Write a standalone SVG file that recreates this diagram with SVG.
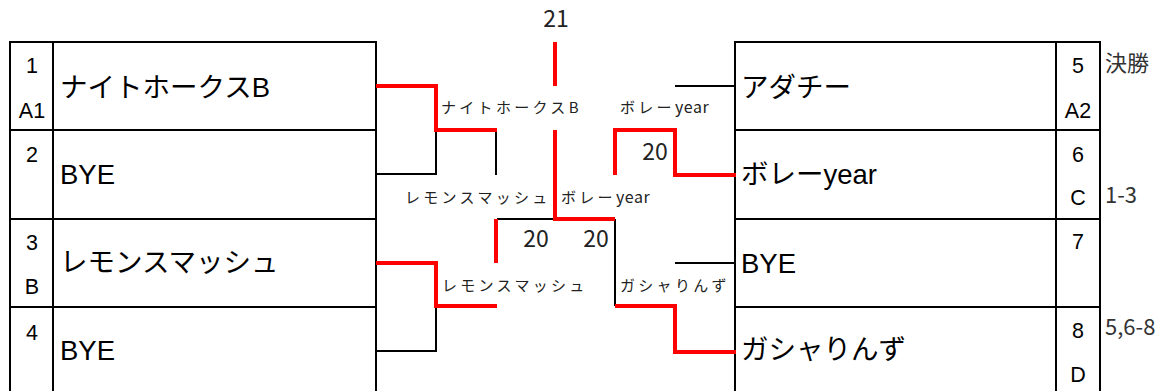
<svg xmlns="http://www.w3.org/2000/svg" width="1166" height="391" viewBox="0 0 1166 391">
<style>
.tb{fill:none;stroke:#000;stroke-width:2}
.bk{fill:none;stroke:#000;stroke-width:2}
.rd{fill:none;stroke:#ff0000;stroke-width:4}
.nm{font-family:"Liberation Sans","Noto Sans CJK JP",sans-serif;font-size:27.5px;fill:#000}
.no{font-family:"Liberation Sans","Noto Sans CJK JP",sans-serif;font-size:21.5px;fill:#000;text-anchor:middle}
.lb{font-family:"Noto Sans CJK JP",sans-serif;font-size:15px;fill:#222;letter-spacing:3.3px}
.lt{letter-spacing:0.6px;font-size:16px}
.sc{font-family:"Noto Sans CJK JP",sans-serif;font-size:23px;fill:#222;text-anchor:middle}
.sd{font-family:"Noto Sans CJK JP",sans-serif;font-size:22px;fill:#333}
</style>
<rect width="1166" height="391" fill="#fff"/>
<g id="left-table">
<path class="tb" d="M10,391V42H376V391M53,42V391M10,130H376M10,219H376M10,307H376"/>
</g>
<g id="right-table">
<path class="tb" d="M735,391V42H1100V391M1056,42V391M735,130H1100M735,219H1100M735,307H1100"/>
</g>
<g id="team1"><text class="no" x="32" y="73">1</text><text class="no" x="32" y="118">A1</text><text class="nm" x="60" y="97">ナイトホークスB</text></g>
<g id="team2"><text class="no" x="32" y="162">2</text><text class="nm" x="60" y="184">BYE</text></g>
<g id="team3"><text class="no" x="32" y="250">3</text><text class="no" x="32" y="294">B</text><text class="nm" x="60" y="272">レモンスマッシュ</text></g>
<g id="team4"><text class="no" x="32" y="340">4</text><text class="nm" x="60" y="360">BYE</text></g>
<g id="team5"><text class="no" x="1078" y="73">5</text><text class="no" x="1078" y="118">A2</text><text class="nm" x="741" y="97">アダチー</text></g>
<g id="team6"><text class="no" x="1078" y="162">6</text><text class="no" x="1078" y="205">C</text><text class="nm" x="741" y="184">ボレーyear</text></g>
<g id="team7"><text class="no" x="1078" y="249">7</text><text class="nm" x="741" y="273">BYE</text></g>
<g id="team8"><text class="no" x="1078" y="338">8</text><text class="no" x="1078" y="382">D</text><text class="nm" x="741" y="359">ガシャりんず</text></g>
<g id="side-notes">
<text class="sd" x="1105" y="71">決勝</text>
<text class="sd" x="1105" y="203">1-3</text>
<text class="sd" x="1105" y="335">5,6-8</text>
</g>
<g id="connectors">
<path class="bk" d="M376,174H436V130"/>
<path class="bk" d="M496,130V175"/>
<path class="bk" d="M376,351H436V306"/>
<path class="bk" d="M497,219H555"/>
<path class="bk" d="M615,219V306"/>
<path class="bk" d="M675,86H736"/>
<path class="bk" d="M675,263H736"/>
<path class="rd" d="M376,86H436V130H497"/>
<path class="rd" d="M376,263H436V306H497"/>
<path class="rd" d="M496,219V263"/>
<path class="rd" d="M555,42V86"/>
<path class="rd" d="M555,130V219H615"/>
<path class="rd" d="M615,175V130H675V175H736"/>
<path class="rd" d="M615,306H675V352H736"/>
</g>
<g id="labels">
<text class="lb" x="441" y="113">ナイトホークスB</text>
<text class="lb" x="620" y="113">ボレー<tspan class="lt">year</tspan></text>
<text class="lb" x="405" y="203">レモンスマッシュ</text>
<text class="lb" x="561" y="203">ボレー<tspan class="lt">year</tspan></text>
<text class="lb" x="442" y="291">レモンスマッシュ</text>
<text class="lb" x="620" y="291">ガシャりんず</text>
<text class="sc" x="556" y="27">21</text>
<text class="sc" x="655" y="160">20</text>
<text class="sc" x="536" y="247">20</text>
<text class="sc" x="596" y="247">20</text>
</g>
</svg>
